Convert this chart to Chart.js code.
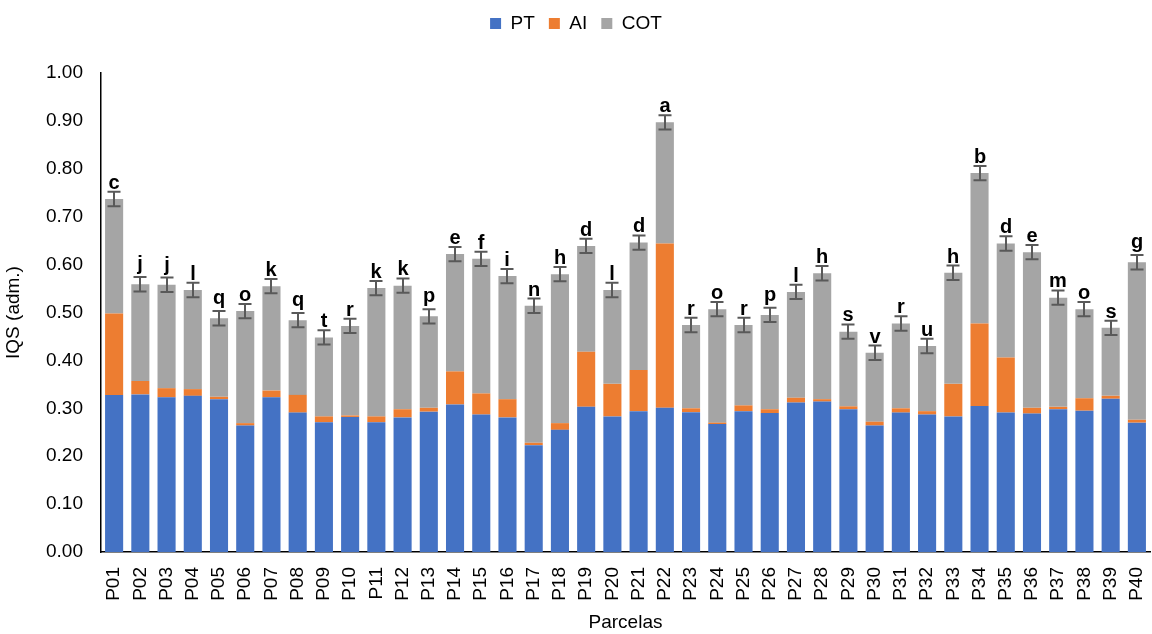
<!DOCTYPE html>
<html>
<head>
<meta charset="utf-8">
<script src="https://cdn.jsdelivr.net/npm/chart.js@4.4.0/dist/chart.umd.min.js"></script>
<style>
  html, body { margin: 0; padding: 0; background: #fff; }
  #wrap { width: 1152px; height: 634px; }
</style>
</head>
<body>
<div id="wrap"><canvas id="chart" width="1152" height="634"></canvas></div>
<script>
const parcelas = ["P01","P02","P03","P04","P05","P06","P07","P08","P09","P10",
  "P11","P12","P13","P14","P15","P16","P17","P18","P19","P20",
  "P21","P22","P23","P24","P25","P26","P27","P28","P29","P30",
  "P31","P32","P33","P34","P35","P36","P37","P38","P39","P40"];

// PT component
const ptValues = [0.328,0.329,0.323,0.326,0.319,0.264,0.323,0.291,0.271,0.282,
  0.271,0.281,0.293,0.308,0.287,0.281,0.223,0.255,0.303,0.283,
  0.294,0.301,0.292,0.267,0.294,0.290,0.312,0.314,0.298,0.264,
  0.291,0.287,0.283,0.305,0.291,0.289,0.298,0.295,0.320,0.270];

// AI component
const aiValues = [0.170,0.028,0.019,0.014,0.005,0.005,0.014,0.037,0.012,0.003,
  0.012,0.017,0.008,0.069,0.044,0.038,0.005,0.014,0.115,0.068,
  0.086,0.343,0.008,0.003,0.012,0.008,0.010,0.005,0.006,0.008,
  0.009,0.007,0.068,0.172,0.115,0.012,0.005,0.026,0.006,0.006];

// COT component
const cotValues = [0.239,0.202,0.216,0.207,0.164,0.234,0.218,0.156,0.165,0.187,
  0.268,0.258,0.191,0.245,0.281,0.257,0.286,0.311,0.221,0.196,
  0.266,0.253,0.174,0.237,0.168,0.197,0.221,0.263,0.156,0.144,
  0.177,0.136,0.232,0.314,0.238,0.325,0.228,0.186,0.142,0.329];

const errValues = [0.015,0.015,0.015,0.015,0.015,0.015,0.015,0.015,0.015,0.015,
  0.015,0.015,0.015,0.015,0.015,0.015,0.015,0.015,0.015,0.015,
  0.015,0.015,0.015,0.015,0.015,0.015,0.015,0.015,0.015,0.015,
  0.015,0.015,0.015,0.015,0.015,0.015,0.015,0.015,0.015,0.015];

const letters = ["c","j","j","l","q","o","k","q","t","r",
  "k","k","p","e","f","i","n","h","d","l",
  "d","a","r","o","r","p","l","h","s","v",
  "r","u","h","b","d","e","m","o","s","g"];

const FONT = "'Liberation Sans', Arial, sans-serif";

// error bars + letters of the mean comparison test
const errorBars = {
  id: "errorBars",
  afterDatasetsDraw(chart) {
    const ctx = chart.ctx;
    const x = chart.scales.x;
    const y = chart.scales.y;
    ctx.save();
    ctx.strokeStyle = "#595959";
    ctx.lineWidth = 2;
    ctx.fillStyle = "#000";
    ctx.font = "bold 20px " + FONT;
    ctx.textAlign = "center";
    ctx.textBaseline = "alphabetic";
    parcelas.forEach((p, i) => {
      const total = ptValues[i] + aiValues[i] + cotValues[i];
      const cx = Math.round(x.getPixelForValue(i));
      const yt = y.getPixelForValue(total + errValues[i]);
      const yb = y.getPixelForValue(total - errValues[i]);
      ctx.beginPath();
      ctx.moveTo(cx, yt); ctx.lineTo(cx, yb);
      ctx.moveTo(cx - 6.5, yt); ctx.lineTo(cx + 6.5, yt);
      ctx.moveTo(cx - 6.5, yb); ctx.lineTo(cx + 6.5, yb);
      ctx.stroke();
      const m = ctx.measureText(letters[i]);
      ctx.fillText(letters[i], cx, yt - 3 - Math.max(0, m.actualBoundingBoxDescent));
    });
    ctx.restore();
  }
};

// legend block takes the whole band above the plot
const legendBand = {
  id: "legendBand",
  beforeInit(chart) {
    const fit = chart.legend.fit;
    chart.legend.fit = function () {
      fit.bind(this)();
      this.height = 73;
    };
  }
};

new Chart(document.getElementById("chart"), {
  type: "bar",
  data: {
    labels: parcelas,
    datasets: [
      { label: "PT", data: ptValues, backgroundColor: "#4472C4" },
      { label: "AI", data: aiValues, backgroundColor: "#ED7D31" },
      { label: "COT", data: cotValues, backgroundColor: "#A5A5A5" }
    ]
  },
  options: {
    responsive: false,
    animation: false,
    layout: { padding: { left: 2, right: 2, top: 0, bottom: 0 } },
    datasets: { bar: { barPercentage: 0.69, categoryPercentage: 1.0, borderWidth: 0 } },
    plugins: {
      legend: {
        position: "top",
        labels: {
          boxWidth: 11, boxHeight: 11, padding: 14,
          color: "#000", font: { family: FONT, size: 19 }
        }
      },
      tooltip: { enabled: false }
    },
    scales: {
      x: {
        stacked: true,
        afterFit(scale) {
          scale.height = 82;
          scale.paddingLeft = 0;
          scale.paddingRight = 0;
        },
        grid: { display: false, drawTicks: false },
        border: { color: "#000", width: 1.5 },
        ticks: { minRotation: 90, maxRotation: 90, autoSkip: false, color: "#000",
          padding: 15, font: { family: FONT, size: 19 } },
        title: { display: true, text: "Parcelas", color: "#000",
          font: { family: FONT, size: 19 }, padding: { top: 0, bottom: 0 } }
      },
      y: {
        stacked: true,
        min: 0, max: 1,
        afterFit(scale) { scale.width = 99; },
        grid: { display: false, drawTicks: false },
        border: { color: "#000", width: 1.5 },
        ticks: { stepSize: 0.1, color: "#000", padding: 18,
          font: { family: FONT, size: 19 }, callback: v => v.toFixed(2) },
        title: { display: true, text: "IQS (adm.)", color: "#000",
          font: { family: FONT, size: 19 }, padding: { top: 0, bottom: 0 } }
      }
    }
  },
  plugins: [errorBars, legendBand]
});
</script>
</body>
</html>
